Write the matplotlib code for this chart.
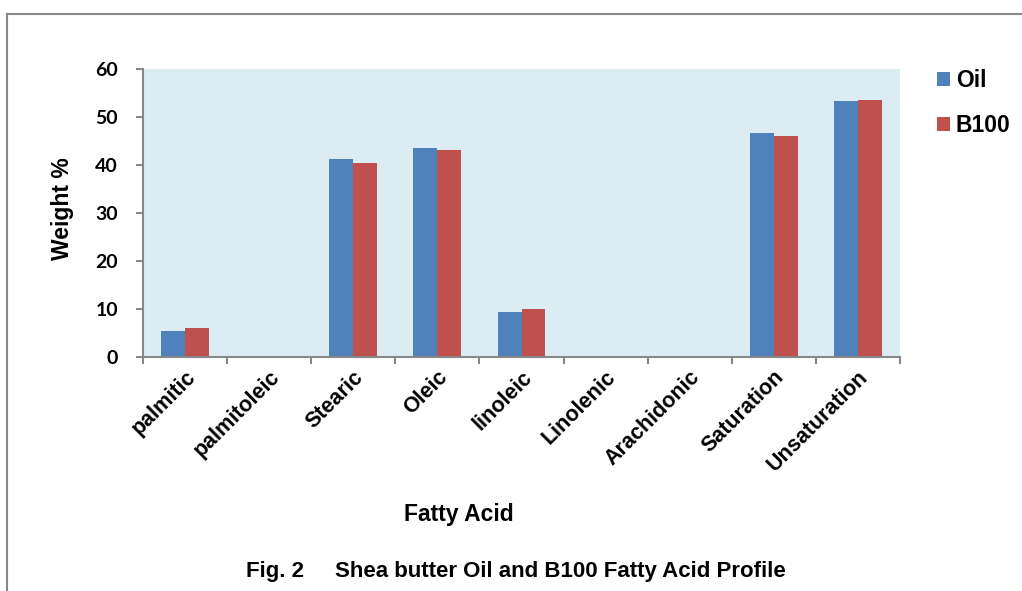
import numpy as np
import matplotlib.pyplot as plt
from matplotlib.lines import Line2D

plt.rcParams['font.family'] = ['Liberation Sans', 'DejaVu Sans']
plt.rcParams['font.weight'] = 'bold'

acids = ["palmitic", "palmitoleic", "Stearic", "Oleic", "linoleic",
         "Linolenic", "Arachidonic", "Saturation", "Unsaturation"]
oil = [5.4, 0, 41.3, 43.6, 9.4, 0, 0, 46.7, 53.3]
b100 = [6.0, 0, 40.4, 43.1, 10.0, 0, 0.3, 46.1, 53.6]

W, H = 1022, 591
fig = plt.figure(figsize=(W / 100, H / 100), dpi=100)
ax = fig.add_axes([143 / W, 1 - 357 / H, (900 - 143) / W, (357 - 69) / H])
ax.set_facecolor("#dbedf3")

x = np.arange(len(acids))
w = 0.285
ax.bar(x - w / 2, oil, w, color="#4f81bd", label="Oil")
ax.bar(x + w / 2, b100, w, color="#c0504d", label="B100")

ax.set_xlim(-0.5, len(acids) - 0.5)
ax.set_ylim(0, 60)
ax.set_yticks(range(0, 61, 10))
ax.set_yticklabels([str(v) for v in range(0, 61, 10)], family=["Lato", "DejaVu Sans"],
                   fontweight="bold", fontsize=14)
ax.set_xticks(x)
ax.set_xticklabels(acids, rotation=45, ha="right", rotation_mode="anchor",
                   fontsize=15.5, fontweight="bold")
ax.set_xticks(np.arange(-0.5, len(acids)), minor=True)
ax.tick_params(axis="x", which="major", length=0, pad=7)
ax.tick_params(axis="x", which="minor", length=5, color="#888888", width=1.5)
ax.tick_params(axis="y", length=5, color="#888888", width=1.5, pad=13)

for s in ["top", "right"]:
    ax.spines[s].set_visible(False)
for s in ["left", "bottom"]:
    ax.spines[s].set_color("#888888")
    ax.spines[s].set_linewidth(1.5)

fig.text(63 / W, 1 - 209 / H, "Weight %", rotation=90, ha="center", va="center",
         fontsize=16.5, fontweight="bold")
fig.text(459 / W, 1 - 514 / H, "Fatty Acid", ha="center", va="center",
         fontsize=16.5, fontweight="bold")
fig.text(246 / W, 1 - 571 / H, "Fig. 2", ha="left", va="center",
         fontsize=16, fontweight="bold")
fig.text(335 / W, 1 - 571 / H, "Shea butter Oil and B100 Fatty Acid Profile",
         ha="left", va="center", fontsize=16, fontweight="bold")

ax.legend(loc="upper left", bbox_to_anchor=(937 / W, 1 - 69 / H), bbox_transform=fig.transFigure,
          frameon=False, handlelength=0.57, handleheight=0.57, borderpad=0, borderaxespad=0,
          handletextpad=0.25, labelspacing=0.95, prop={"weight": "bold", "size": 16.5})

# outer frame (top and left edges)
fig.add_artist(Line2D([7 / W, 1], [1 - 14 / H, 1 - 14 / H],
                      transform=fig.transFigure, color="#888888", lw=1.5))
fig.add_artist(Line2D([7 / W, 7 / W], [0, 1 - 14 / H],
                      transform=fig.transFigure, color="#888888", lw=1.5))

fig.savefig("out.png", dpi=100)
